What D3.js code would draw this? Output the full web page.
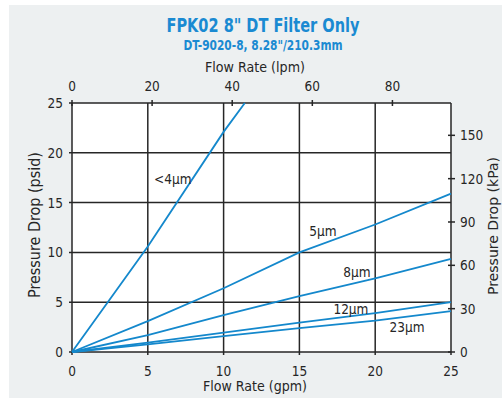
<!DOCTYPE html>
<meta charset="utf-8">
<script src="https://cdn.jsdelivr.net/npm/d3@7"></script>
<style>
  body { margin: 0; background: #fff; }
  text { font-family: "Liberation Sans Narrow", "DejaVu Sans Condensed", sans-serif; }
</style>
<body>
<script>

// flow (gpm) sample points and pressure drop (psid) per media grade
var flowGpm = [0, 5, 10, 15, 20, 25];
var series = [
  {name: "<4µm", flow: [0, 5, 10, 11.4], psid: [0, 10.6, 22.1, 25]},
  {name: "5µm",  flow: flowGpm, psid: [0, 3.1, 6.4, 10.0, 12.8, 15.9]},
  {name: "8µm",  flow: flowGpm, psid: [0, 1.7, 3.7, 5.6, 7.4, 9.35]},
  {name: "12µm", flow: flowGpm, psid: [0, 0.95, 1.95, 2.95, 3.9, 5.0]},
  {name: "23µm", flow: flowGpm, psid: [0, 0.77, 1.6, 2.4, 3.15, 4.1]}
];
// label anchor in data units (gpm, psid)
var labelAt = [[6.65, 16.9], [16.55, 11.6], [18.8, 7.5], [18.4, 3.85], [22.1, 2.05]];

var gpmTicks = [0, 5, 10, 15, 20, 25];
var psiTicks = [0, 5, 10, 15, 20, 25];
var lpmTicks = [0, 20, 40, 60, 80];
var kpaTicks = [0, 30, 60, 90, 120, 150];

function drawChart() {
  var width = 502, height = 400,
      pl = 72, pr = 451, pt = 103, pb = 352,
      blue = "#1488cc", ink = "#262626";

  var svg = d3.select("body").append("svg")
      .attr("width", width)
      .attr("height", height);

  svg.append("rect").attr("x", 9).attr("y", 5)
    .attr("width", width - 9).attr("height", 393)
    .attr("fill", "#edf0f1");

  var x = d3.scaleLinear().domain([0, 25]).range([pl, pr]);
  var y = d3.scaleLinear().domain([0, 25]).range([pb, pt]);
  var xl = d3.scaleLinear().domain([0, 25 * 3.785]).range([pl, pr]);
  var yk = d3.scaleLinear().domain([0, 25 * 6.895]).range([pb, pt]);

  svg.append("rect").attr("x", pl).attr("y", pt)
    .attr("width", pr - pl).attr("height", pb - pt)
    .attr("fill", "#fff");

  // grid
  var grid = svg.append("g").attr("stroke", ink).attr("stroke-width", 1.5);
  grid.selectAll(".gx").data(gpmTicks).enter().append("line")
    .attr("x1", d => x(d)).attr("x2", d => x(d))
    .attr("y1", pt).attr("y2", pb + 3);
  grid.selectAll(".gy").data(psiTicks).enter().append("line")
    .attr("x1", pl - 3).attr("x2", pr)
    .attr("y1", d => y(d)).attr("y2", d => y(d));
  grid.selectAll(".tl").data(lpmTicks).enter().append("line")
    .attr("x1", d => xl(d)).attr("x2", d => xl(d))
    .attr("y1", pt - 3).attr("y2", pt + 3);
  grid.selectAll(".tk").data(kpaTicks).enter().append("line")
    .attr("x1", pr - 3).attr("x2", pr + 4)
    .attr("y1", d => yk(d)).attr("y2", d => yk(d));

  // curves
  var line = d3.line().x(d => x(d[0])).y(d => y(d[1]));
  svg.append("g").selectAll("path").data(series).enter().append("path")
    .attr("d", d => line(d3.zip(d.flow, d.psid)))
    .attr("fill", "none").attr("stroke", blue).attr("stroke-width", 1.8);

  svg.append("g").selectAll("text").data(series).enter().append("text")
    .attr("x", (d, i) => x(labelAt[i][0]))
    .attr("y", (d, i) => y(labelAt[i][1]))
    .attr("text-anchor", "middle").attr("font-size", 13.5).attr("fill", ink)
    .text(d => d.name);

  // tick labels
  var lab = svg.append("g").attr("font-size", 13.5).attr("fill", ink);
  lab.selectAll(".bx").data(gpmTicks).enter().append("text")
    .attr("x", d => x(d)).attr("y", 376).attr("text-anchor", "middle")
    .text(d => d);
  lab.selectAll(".ly").data(psiTicks).enter().append("text")
    .attr("x", 63).attr("y", d => y(d) + 5).attr("text-anchor", "end")
    .text(d => d);
  lab.selectAll(".tx").data(lpmTicks).enter().append("text")
    .attr("x", d => xl(d)).attr("y", 91).attr("text-anchor", "middle")
    .text(d => d);
  lab.selectAll(".ry").data(kpaTicks).enter().append("text")
    .attr("x", 460).attr("y", d => yk(d) + 5)
    .text(d => d);

  // axis titles
  svg.append("text").attr("x", 255).attr("y", 391).attr("text-anchor", "middle")
    .attr("font-size", 14).attr("fill", ink)
    .attr("textLength", 104).attr("lengthAdjust", "spacingAndGlyphs")
    .text("Flow Rate  (gpm)");
  svg.append("text").attr("x", 255).attr("y", 72).attr("text-anchor", "middle")
    .attr("font-size", 14).attr("fill", ink)
    .attr("textLength", 100).attr("lengthAdjust", "spacingAndGlyphs")
    .text("Flow Rate  (lpm)");
  svg.append("text").attr("transform", "translate(40,225) rotate(-90)")
    .attr("text-anchor", "middle").attr("font-size", 15).attr("fill", ink)
    .attr("textLength", 146).attr("lengthAdjust", "spacingAndGlyphs")
    .text("Pressure Drop  (psid)");
  svg.append("text").attr("transform", "translate(498,226) rotate(-90)")
    .attr("text-anchor", "middle").attr("font-size", 14.5).attr("fill", ink)
    .attr("textLength", 138).attr("lengthAdjust", "spacingAndGlyphs")
    .text("Pressure Drop  (kPa)");

  // titles
  svg.append("text").attr("x", 263).attr("y", 32).attr("text-anchor", "middle")
    .attr("font-size", 20).attr("font-weight", "bold").attr("fill", "#1a8ad2")
    .attr("textLength", 193).attr("lengthAdjust", "spacingAndGlyphs")
    .text('FPK02 8" DT Filter Only');
  svg.append("text").attr("x", 263).attr("y", 50).attr("text-anchor", "middle")
    .attr("font-size", 14.5).attr("font-weight", "bold").attr("fill", "#1a8ad2")
    .attr("textLength", 159).attr("lengthAdjust", "spacingAndGlyphs")
    .text('DT-9020-8, 8.28"/210.3mm');
}

drawChart();

</script>
